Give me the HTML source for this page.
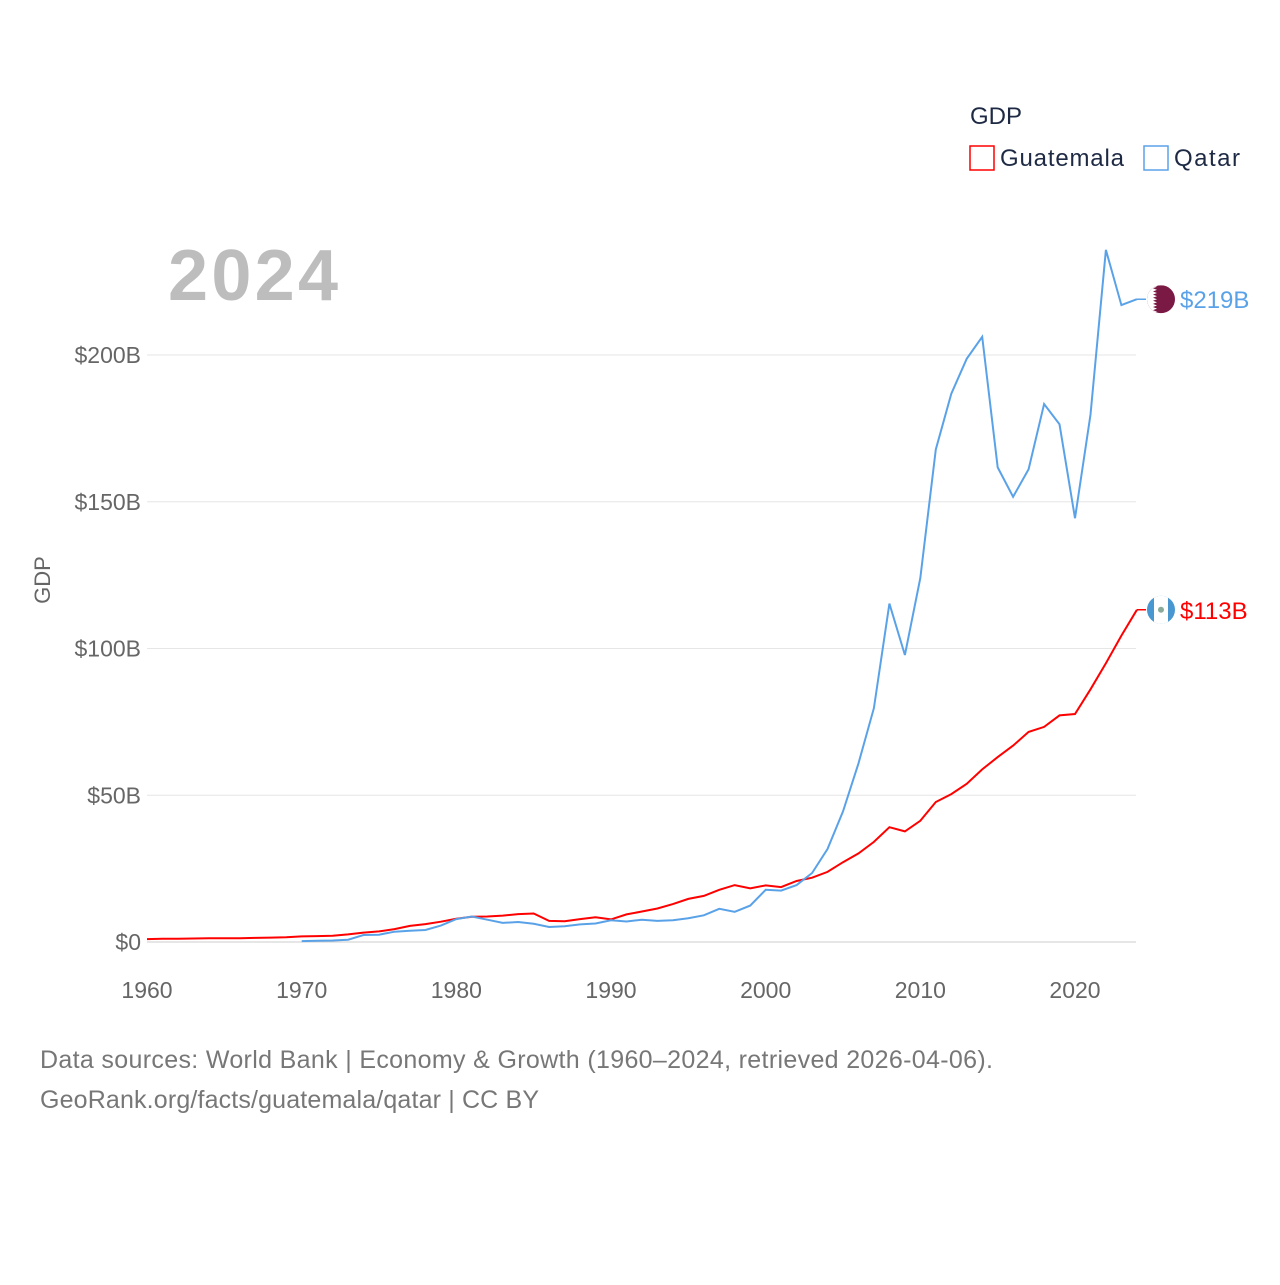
<!DOCTYPE html>
<html><head><meta charset="utf-8"><style>
body{margin:0;background:#fff;font-family:"Liberation Sans",sans-serif;}
</style></head><body>
<svg id="chart" width="1280" height="1280" xmlns="http://www.w3.org/2000/svg" font-family="Liberation Sans, sans-serif">
<rect width="1280" height="1280" fill="#fff"/>
<text x="970" y="124" font-size="24" fill="#1e2a44">GDP</text>
<g><rect x="970" y="146" width="24" height="24" fill="none" stroke="#ff0000" stroke-width="1.5"/><text x="1000" y="166" font-size="24" fill="#1e2a44" textLength="124">Guatemala</text></g>
<g><rect x="1144" y="146" width="24" height="24" fill="none" stroke="#5aa2e8" stroke-width="1.5"/><text x="1174" y="166" font-size="24" fill="#1e2a44" textLength="66">Qatar</text></g>
<text x="168" y="300" font-size="72" font-weight="bold" fill="#bdbdbd" textLength="170">2024</text>
<text transform="translate(50,580) rotate(-90)" font-size="22" fill="#666" text-anchor="middle">GDP</text>
<g id="grid"></g><g id="yticks"></g><g id="xticks"></g><g id="series"></g>
<text x="40" y="1068" font-size="25" fill="#777" textLength="953">Data sources: World Bank | Economy &amp; Growth (1960–2024, retrieved 2026-04-06).</text>
<text x="40" y="1108" font-size="25" fill="#777" textLength="499">GeoRank.org/facts/guatemala/qatar | CC BY</text>
</svg>
<script>
const yTickValues=[0,50,100,150,200];
const yTickLabels=["$0","$50B","$100B","$150B","$200B"];
const xTickValues=[1960,1970,1980,1990,2000,2010,2020];
const guatemalaYears=[];for(let y=1960;y<=2024;y++)guatemalaYears.push(y);
const guatemalaGDP=[1.0,1.1,1.1,1.2,1.3,1.3,1.3,1.4,1.5,1.6,1.9,2.0,2.1,2.6,3.2,3.6,4.4,5.5,6.1,6.9,7.9,8.6,8.7,9.0,9.5,9.7,7.2,7.1,7.8,8.4,7.7,9.4,10.4,11.4,12.9,14.7,15.7,17.8,19.4,18.3,19.3,18.7,20.8,21.9,23.9,27.2,30.2,34.1,39.1,37.7,41.3,47.7,50.4,53.9,58.8,63.0,66.9,71.6,73.3,77.2,77.7,86.1,95.0,104.4,113.2];
const qatarYears=[];for(let y=1970;y<=2024;y++)qatarYears.push(y);
const qatarGDP=[0.3,0.4,0.5,0.8,2.4,2.5,3.5,3.8,4.1,5.6,7.8,8.7,7.6,6.5,6.8,6.2,5.1,5.4,6.0,6.3,7.4,7.0,7.6,7.2,7.4,8.1,9.1,11.3,10.3,12.4,17.8,17.5,19.4,23.5,31.7,44.5,60.9,79.7,115.3,97.8,124.0,167.8,186.8,198.7,206.2,161.7,151.7,161.1,183.3,176.4,144.4,179.7,235.8,217.0,219.0];
const NS="http://www.w3.org/2000/svg";
const X=y=>147+(y-1960)*928/60;
const Y=v=>942-v*587/200;
function el(t,a,p){const e=document.createElementNS(NS,t);for(const k in a)e.setAttribute(k,a[k]);p.appendChild(e);return e;}
const svg=document.getElementById('chart');
const defs=el('defs',{},svg);
const grid=document.getElementById('grid'),yt=document.getElementById('yticks'),xt=document.getElementById('xticks'),ser=document.getElementById('series');
yTickValues.forEach((v,i)=>{
 const l=el('line',{x1:147,x2:1136,y1:Y(v),y2:Y(v),stroke:v===0?'#ccc':'#e6e6e6','stroke-width':1},grid);
 
 
 const t=el('text',{x:141,y:Y(v)+8,'font-size':23,fill:'#666','text-anchor':'end'},yt);t.textContent=yTickLabels[i];
 
 
});
xTickValues.forEach(v=>{
 const t=el('text',{x:X(v),y:998,'font-size':23,fill:'#666','text-anchor':'middle'},xt);t.textContent=v;
 
 
});
function line(years,vals,color,name){
 const d=years.map((y,i)=>(i?'L':'M')+X(y).toFixed(1)+','+Y(vals[i]).toFixed(1)).join('');
 const p=el('path',{d:d,fill:'none',stroke:color,'stroke-width':2},ser);
 
 
 const lv=vals[vals.length-1],ly=Y(lv);
 el('line',{x1:X(years[years.length-1]),x2:1146,y1:ly,y2:ly,stroke:color,'stroke-width':1.5},ser);
 const cp=el('clipPath',{id:'clip-'+name},defs);
 el('circle',{cx:1161,cy:ly,r:14},cp);
 const g=el('g',{'clip-path':'url(#clip-'+name+')'},ser);
 
 
 if(name==='guatemala'){
  el('rect',{x:1147,y:ly-14,width:28,height:28,fill:'#4997d0'},g);
  el('rect',{x:1154,y:ly-14,width:14,height:28,fill:'#fff'},g);
  el('circle',{cx:1161,cy:ly,r:3,fill:'#8a9'},g);
 } else {
  el('rect',{x:1147,y:ly-14,width:28,height:28,fill:'#7a1a44'},g);
  let pts='1147,'+(ly-14);
  for(let k=0;k<9;k++){const y0=ly-14+k*28/9;pts+=' 1153,'+y0.toFixed(1)+' 1157,'+(y0+14/9).toFixed(1);}
  pts+=' 1153,'+(ly+14)+' 1147,'+(ly+14);
  el('polygon',{points:pts,fill:'#fff'},g);
 }
 const t=el('text',{x:1180,y:ly+9,'font-size':24,fill:color},ser);t.textContent='$'+Math.round(lv)+'B';
 
 
}
line(guatemalaYears,guatemalaGDP,'#ff0000','guatemala');
line(qatarYears,qatarGDP,'#5aa2e8','qatar');
</script>
</body></html>
